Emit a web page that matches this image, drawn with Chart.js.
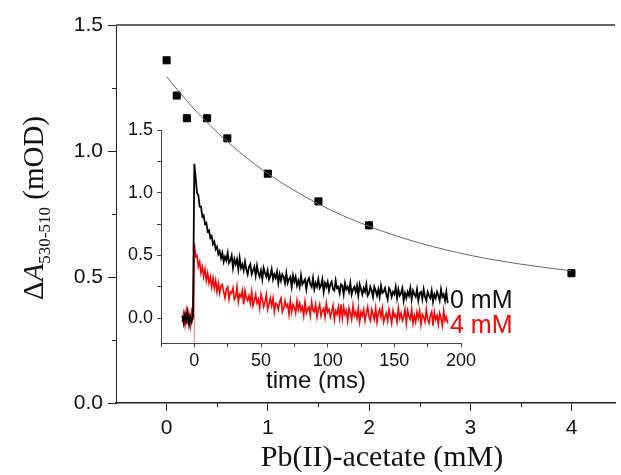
<!DOCTYPE html>
<html lang="en">
<head>
<meta charset="UTF-8">
<title>Transient amplitude vs Pb(II)-acetate</title>
<script src="https://cdn.jsdelivr.net/npm/chart.js"></script>
<style>
    body { margin: 0; background: #ffffff; }
    #wrap { position: relative; width: 621px; height: 475px; }
    #main { position: absolute; left: 0; top: 0; }
    #inset { position: absolute; left: 100px; top: 100px; }
</style>
</head>
<body>
<div id="wrap">
    <canvas id="main" width="621" height="475"></canvas>
    <canvas id="inset" width="440" height="300"></canvas>
</div>
<script>
// ---- main plot: amplitude vs Pb(II)-acetate concentration ----
const conc = [0, 0.1, 0.2, 0.4, 0.6, 1, 1.5, 2, 4];
const amp = [1.36, 1.22, 1.13, 1.13, 1.05, 0.91, 0.80, 0.705, 0.515];

// fitted curve
const fitX = [0, 0.25, 0.5, 0.75, 1, 1.5, 2, 2.5, 3, 3.5, 4];
const fitY = [1.295, 1.176, 1.074, 0.986, 0.910, 0.790, 0.701, 0.635, 0.586, 0.551, 0.524];

const mainXTicks = [0, 1, 2, 3, 4];
const mainXMinor = [0.5, 1.5, 2.5, 3.5];
const mainYTicks = [0, 0.5, 1.0, 1.5];
const mainYMinor = [0.25, 0.75, 1.25];

// ---- inset: transient traces, 1 ms steps from -9 to 190 ms ----
const traceTime = [
    -9, -8, -7, -6, -5, -4, -3, -2, -1,
    0, 1, 2, 3, 4, 5, 6, 7, 8, 9, 10, 11, 12, 13, 14, 15, 16, 17, 18, 19, 20,
    21, 22, 23, 24, 25, 26, 27, 28, 29, 30, 31, 32, 33, 34, 35, 36, 37, 38, 39, 40,
    41, 42, 43, 44, 45, 46, 47, 48, 49, 50, 51, 52, 53, 54, 55, 56, 57, 58, 59, 60,
    61, 62, 63, 64, 65, 66, 67, 68, 69, 70, 71, 72, 73, 74, 75, 76, 77, 78, 79, 80,
    81, 82, 83, 84, 85, 86, 87, 88, 89, 90, 91, 92, 93, 94, 95, 96, 97, 98, 99, 100,
    101, 102, 103, 104, 105, 106, 107, 108, 109, 110, 111, 112, 113, 114, 115, 116, 117, 118, 119, 120,
    121, 122, 123, 124, 125, 126, 127, 128, 129, 130, 131, 132, 133, 134, 135, 136, 137, 138, 139, 140,
    141, 142, 143, 144, 145, 146, 147, 148, 149, 150, 151, 152, 153, 154, 155, 156, 157, 158, 159, 160,
    161, 162, 163, 164, 165, 166, 167, 168, 169, 170, 171, 172, 173, 174, 175, 176, 177, 178, 179, 180,
    181, 182, 183, 184, 185, 186, 187, 188, 189, 190
];
const trace0mM = [
    0.02, -0.04, 0.03, -0.02, 0.05, -0.05, 0.01, -0.03, 0.02,
    1.23, 1.12, 1.00, 0.98, 0.89, 0.89, 0.81, 0.82, 0.75, 0.76, 0.69, 0.70, 0.64, 0.655, 0.59, 0.61, 0.55, 0.57, 0.51, 0.535, 0.48,
    0.52, 0.45, 0.49, 0.46, 0.52, 0.44, 0.46, 0.50, 0.40, 0.47, 0.43, 0.47, 0.39, 0.48, 0.40, 0.43, 0.38, 0.45, 0.39, 0.35,
    0.41, 0.43, 0.35, 0.38, 0.41, 0.34, 0.42, 0.36, 0.33, 0.38, 0.31, 0.40, 0.36, 0.33, 0.38, 0.31, 0.34, 0.39, 0.31, 0.35,
    0.32, 0.37, 0.28, 0.35, 0.30, 0.35, 0.33, 0.28, 0.36, 0.28, 0.31, 0.33, 0.25, 0.34, 0.29, 0.33, 0.26, 0.30, 0.25, 0.34,
    0.27, 0.29, 0.31, 0.23, 0.30, 0.32, 0.27, 0.25, 0.32, 0.23, 0.28, 0.25, 0.31, 0.24, 0.26, 0.31, 0.21, 0.28, 0.25, 0.29,
    0.22, 0.27, 0.29, 0.23, 0.22, 0.30, 0.24, 0.25, 0.20, 0.27, 0.26, 0.19, 0.28, 0.23, 0.25, 0.21, 0.28, 0.19, 0.23, 0.25,
    0.21, 0.26, 0.18, 0.27, 0.23, 0.19, 0.24, 0.21, 0.27, 0.18, 0.20, 0.25, 0.22, 0.17, 0.25, 0.22, 0.18, 0.23, 0.17, 0.26,
    0.20, 0.21, 0.24, 0.19, 0.15, 0.24, 0.22, 0.17, 0.21, 0.19, 0.25, 0.16, 0.23, 0.18, 0.20, 0.24, 0.14, 0.20, 0.16, 0.21,
    0.18, 0.24, 0.15, 0.22, 0.19, 0.17, 0.23, 0.14, 0.20, 0.21, 0.15, 0.23, 0.17, 0.14, 0.21, 0.18, 0.16, 0.22, 0.13, 0.19,
    0.16, 0.21, 0.18, 0.14, 0.23, 0.17, 0.19, 0.14, 0.21, 0.12
];
const trace4mM = [
    -0.03, 0.04, -0.05, 0.06, -0.02, 0.03, -0.06, 0.05, -0.01,
    0.59, 0.49, 0.50, 0.41, 0.45, 0.36, 0.41, 0.33, 0.39, 0.30, 0.36, 0.28, 0.33, 0.25, 0.32, 0.24, 0.30, 0.21, 0.28, 0.20, 0.26,
    0.27, 0.21, 0.16, 0.23, 0.25, 0.15, 0.21, 0.20, 0.24, 0.15, 0.17, 0.25, 0.13, 0.19, 0.17, 0.22, 0.11, 0.22, 0.16, 0.14,
    0.18, 0.12, 0.21, 0.10, 0.14, 0.19, 0.12, 0.15, 0.08, 0.19, 0.15, 0.09, 0.13, 0.19, 0.07, 0.11, 0.16, 0.10, 0.16, 0.05,
    0.12, 0.11, 0.07, 0.13, 0.16, 0.05, 0.08, 0.14, 0.09, 0.11, 0.03, 0.14, 0.05, 0.11, 0.09, 0.04, 0.14, 0.07, 0.12, 0.06,
    0.09, 0.02, 0.13, 0.04, 0.07, 0.09, 0.02, 0.13, 0.06, 0.05, 0.11, 0.01, 0.07, 0.11, 0.02, 0.06, 0.08, 0.01, 0.12, 0.05,
    0.07, 0.01, 0.05, 0.10, -0.01, 0.06, 0.03, 0.09, 0.00, 0.11, 0.00, 0.09, 0.03, 0.06, -0.02, 0.08, 0.04, -0.01, 0.10, 0.02,
    0.05, 0.00, 0.08, -0.03, 0.05, 0.02, 0.07, -0.02, 0.04, 0.09, 0.01, -0.02, 0.07, 0.03, -0.01, 0.08, -0.03, 0.04, 0.07, 0.01,
    0.08, -0.03, 0.01, 0.04, -0.02, 0.07, 0.02, -0.04, 0.06, 0.01, 0.03, -0.03, 0.08, 0.00, 0.04, -0.02, 0.01, 0.07, -0.04, 0.06,
    0.01, -0.01, 0.07, -0.04, 0.02, -0.03, 0.05, 0.00, 0.06, -0.05, 0.03, 0.01, -0.03, 0.07, -0.01, -0.04, 0.02, 0.05, -0.06, 0.05,
    -0.01, 0.02, -0.05, 0.04, 0.00, -0.06, 0.06, -0.02, 0.01, -0.04
];
// trigger line at t = 0
const triggerTime = [0, 0];
const triggerY = [-0.2, 0.6];

const insetXTicks = [-25, 0, 25, 50, 75, 100, 125, 150, 175, 200];
const insetYTicks = [0, 0.25, 0.5, 0.75, 1.0, 1.25, 1.5];

const SANS = '"Liberation Sans", Arial, sans-serif';
const SERIF = '"Liberation Serif", "Times New Roman", serif';

function pairs(xs, ys) {
    return xs.map((v, i) => ({ x: v, y: ys[i] }));
}

// minor ticks, top frame line and axis titles of the main plot
const mainDecor = {
    id: 'mainDecor',
    afterDraw(chart) {
        const { ctx, chartArea: a, scales: { x, y } } = chart;
        ctx.save();
        ctx.strokeStyle = '#666';
        ctx.lineWidth = 2;
        ctx.beginPath();
        ctx.moveTo(a.left, a.top);
        ctx.lineTo(a.right, a.top);
        ctx.stroke();

        ctx.strokeStyle = '#222';
        ctx.lineWidth = 1;
        ctx.beginPath();
        mainXMinor.forEach(v => {
            const px = Math.round(x.getPixelForValue(v)) + 0.5;
            ctx.moveTo(px, a.bottom);
            ctx.lineTo(px, a.bottom + 4);
        });
        mainYMinor.forEach(v => {
            const py = Math.round(y.getPixelForValue(v)) + 0.5;
            ctx.moveTo(a.left, py);
            ctx.lineTo(a.left - 4, py);
        });
        ctx.stroke();

        ctx.fillStyle = '#111';
        ctx.textBaseline = 'alphabetic';
        ctx.textAlign = 'center';
        ctx.font = '30px ' + SERIF;
        ctx.fillText('Pb(II)-acetate (mM)', 382, 466);

        // rotated y title with italic A and subscript
        ctx.translate(43, 208);
        ctx.rotate(-Math.PI / 2);
        ctx.textAlign = 'left';
        const parts = [
            ['\u0394', '29px ' + SERIF, 0],
            ['A', 'italic 29px ' + SERIF, 0],
            ['530-510', '17px ' + SERIF, 7],
            [' (mOD)', '29px ' + SERIF, 0]
        ];
        let total = 0;
        parts.forEach(p => { ctx.font = p[1]; total += ctx.measureText(p[0]).width; });
        let cx = -total / 2;
        parts.forEach(p => {
            ctx.font = p[1];
            ctx.fillText(p[0], cx, p[2]);
            cx += ctx.measureText(p[0]).width;
        });
        ctx.restore();
    }
};

const insetDecor = {
    id: 'insetDecor',
    afterDraw(chart) {
        const { ctx } = chart;
        ctx.save();
        ctx.textBaseline = 'alphabetic';
        ctx.font = '24px ' + SANS;
        ctx.textAlign = 'center';
        ctx.fillStyle = '#111';
        ctx.fillText('time (ms)', 216, 288);
        ctx.textAlign = 'left';
        ctx.font = '25px ' + SANS;
        ctx.fillText('0 mM', 350, 208);
        ctx.fillStyle = '#ff0000';
        ctx.fillText('4 mM', 350, 233);
        ctx.restore();
    }
};

new Chart(document.getElementById('main'), {
    type: 'scatter',
    data: {
        datasets: [{
            type: 'line',
            label: 'fit',
            data: pairs(fitX, fitY),
            borderColor: '#666',
            borderWidth: 1,
            pointRadius: 0,
            cubicInterpolationMode: 'monotone'
        }, {
            label: 'amplitude',
            data: pairs(conc, amp),
            pointStyle: 'rect',
            pointRadius: 5,
            borderWidth: 1,
            borderColor: '#000',
            backgroundColor: '#000'
        }]
    },
    options: {
        responsive: false,
        animation: false,
        layout: { padding: { top: 25, left: 0, right: 0, bottom: 0 } },
        plugins: { legend: { display: false }, tooltip: { enabled: false } },
        scales: {
            x: {
                type: 'linear',
                min: -0.5,
                max: 4.43,
                afterBuildTicks: s => { s.ticks = mainXTicks.map(v => ({ value: v })); },
                afterFit: s => { s.height = 72; },
                ticks: {
                    autoSkip: false, maxRotation: 0, padding: 5,
                    color: '#111', font: { family: SANS, size: 21 },
                    callback: v => String(v)
                },
                grid: { drawOnChartArea: false, tickLength: 8, color: '#222', tickWidth: 1 },
                border: { display: true, color: '#222', width: 1.5 }
            },
            y: {
                min: 0,
                max: 1.5,
                afterBuildTicks: s => { s.ticks = mainYTicks.map(v => ({ value: v })); },
                afterFit: s => { s.width = 116; },
                ticks: {
                    padding: 5,
                    color: '#111', font: { family: SANS, size: 21 },
                    callback: v => v.toFixed(1)
                },
                grid: { drawOnChartArea: false, tickLength: 8, color: '#222', tickWidth: 1 },
                border: { display: true, color: '#222', width: 1 }
            }
        }
    },
    plugins: [mainDecor]
});

new Chart(document.getElementById('inset'), {
    type: 'line',
    data: {
        datasets: [{
            label: '0 mM',
            data: pairs(traceTime, trace0mM),
            borderColor: '#000',
            borderWidth: 1.8,
            pointRadius: 0
        }, {
            label: '4 mM',
            data: pairs(traceTime, trace4mM),
            borderColor: '#ff0000',
            borderWidth: 1.6,
            pointRadius: 0
        }, {
            label: 'trigger',
            data: pairs(triggerTime, triggerY),
            borderColor: 'rgba(255, 60, 60, 0.7)',
            borderWidth: 1,
            pointRadius: 0
        }]
    },
    options: {
        responsive: false,
        animation: false,
        layout: { padding: { top: 30, left: 0, right: 79, bottom: 0 } },
        plugins: { legend: { display: false }, tooltip: { enabled: false } },
        scales: {
            x: {
                type: 'linear',
                min: -25,
                max: 200,
                afterBuildTicks: s => { s.ticks = insetXTicks.map(v => ({ value: v })); },
                afterFit: s => { s.height = 56.7; },
                ticks: {
                    autoSkip: false, maxRotation: 0, padding: 3,
                    color: '#111', font: { family: SANS, size: 18 },
                    callback: v => (v % 50 === 0 ? String(v) : '')
                },
                grid: { drawOnChartArea: false, tickLength: 4, color: '#444' },
                border: { display: true, color: '#444', width: 1 }
            },
            y: {
                min: -0.2,
                max: 1.5,
                afterBuildTicks: s => { s.ticks = insetYTicks.map(v => ({ value: v })); },
                afterFit: s => { s.width = 61; },
                ticks: {
                    padding: 4,
                    color: '#111', font: { family: SANS, size: 18 },
                    callback: v => (Math.abs(v * 2 - Math.round(v * 2)) < 1e-9 ? v.toFixed(1) : '')
                },
                grid: { drawOnChartArea: false, tickLength: 4, color: '#444' },
                border: { display: true, color: '#444', width: 1 }
            }
        }
    },
    plugins: [insetDecor]
});
</script>
</body>
</html>
